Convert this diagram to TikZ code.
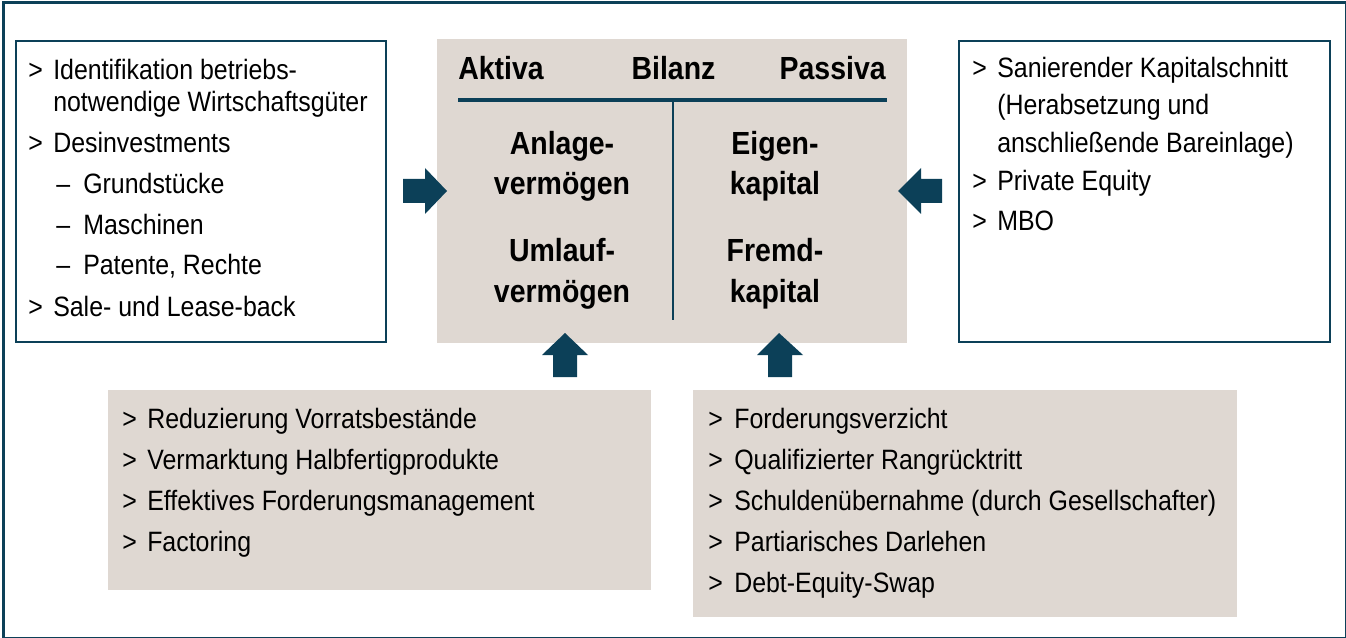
\documentclass[tikz,border=0pt]{standalone}
\usepackage{fontspec}
\setmainfont[FakeStretch=0.89]{Liberation Sans}
\definecolor{frameblue}{RGB}{12,64,88}
\definecolor{beige}{RGB}{223,216,210}
\begin{document}
\begin{tikzpicture}[x=0.75pt,y=-0.75pt,
  txt/.style={anchor=base west, inner sep=0pt, font=\fontsize{21}{25}\selectfont},
  hd/.style={anchor=base, inner sep=0pt, font=\fontsize{24}{28}\selectfont\bfseries},
  wbox/.style={draw=frameblue, line width=1.5pt, fill=white, anchor=north west, inner sep=0pt},
  bbox/.style={fill=beige, anchor=north west, inner sep=0pt},
  blockarrow/.style={fill=frameblue, draw=none}]
\useasboundingbox (0,0) rectangle (1346,638);
\fill[white] (0,0) rectangle (1346,638);
\node[draw=frameblue, line width=2.25pt, anchor=north west, inner sep=0pt,
      minimum width=1007.25pt, minimum height=476.25pt] (frame) at (1.5,1.5) {};

% boxes
\node[wbox, minimum width=277.5pt, minimum height=225.75pt] (L) at (15,40) {};
\node[bbox, minimum width=352.5pt, minimum height=228pt] (C) at (437,39) {};
\node[wbox, minimum width=278.25pt, minimum height=225.75pt] (R) at (958,40) {};
\node[bbox, minimum width=407.25pt, minimum height=150pt] (BL) at (108,390) {};
\node[bbox, minimum width=408pt, minimum height=170.25pt] (BR) at (693,390) {};

% balance sheet lines
\coordinate (hl) at (458,100.5);
\coordinate (hr) at (887,100.5);
\coordinate (vt) at (673,100.5);
\coordinate (vb) at (673,320);
\draw[frameblue, line width=3pt] (hl) -- (hr);
\draw[frameblue, line width=1.9pt] (vt) -- (vb);

% header
\node[hd, anchor=base west] (aktiva) at (458,80) {Aktiva};
\node[hd] (bilanz) at (673.5,80) {Bilanz};
\node[hd, anchor=base east] (passiva) at (886,80) {Passiva};
\node[hd] (a1) at (562,155) {Anlage-};
\node[hd] (a2) at (562,195) {vermögen};
\node[hd] (u1) at (562,262) {Umlauf-};
\node[hd] (u2) at (562,302) {vermögen};
\node[hd] (e1) at (775,155) {Eigen-};
\node[hd] (e2) at (775,195) {kapital};
\node[hd] (f1) at (775,262) {Fremd-};
\node[hd] (f2) at (775,302) {kapital};

% left box text
\node[txt] (lm1) at (28,80) {>};
\node[txt] (lt1) at (53,80) {Identifikation betriebs-};
\node[txt] (lt1b) at (53,112) {notwendige Wirtschaftsgüter};
\node[txt] (lm2) at (28,153) {>};
\node[txt] (lt2) at (53,153) {Desinvestments};
\node[txt] (ld1) at (56,194) {–};
\node[txt] (lt3) at (83,194) {Grundstücke};
\node[txt] (ld2) at (56,234) {–};
\node[txt] (lt4) at (83,234) {Maschinen};
\node[txt] (ld3) at (56,274) {–};
\node[txt] (lt5) at (83,274) {Patente, Rechte};
\node[txt] (lm3) at (28,316) {>};
\node[txt] (lt6) at (53,316) {Sale- und Lease-back};

% right box text
\node[txt] (rm1) at (972,78) {>};
\node[txt] (rt1) at (997,78) {Sanierender Kapitalschnitt};
\node[txt] (rt1b) at (997,115) {(Herabsetzung und};
\node[txt] (rt1c) at (997,153) {anschließende Bareinlage)};
\node[txt] (rm2) at (972,191) {>};
\node[txt] (rt2) at (997,191) {Private Equity};
\node[txt] (rm3) at (972,230) {>};
\node[txt] (rt3) at (997,230) {MBO};

% bottom left text
\node[txt] (bm1) at (122,428) {>};
\node[txt] (bt1) at (147,428) {Reduzierung Vorratsbestände};
\node[txt] (bm2) at (122,469) {>};
\node[txt] (bt2) at (147,469) {Vermarktung Halbfertigprodukte};
\node[txt] (bm3) at (122,510) {>};
\node[txt] (bt3) at (147,510) {Effektives Forderungsmanagement};
\node[txt] (bm4) at (122,551) {>};
\node[txt] (bt4) at (147,551) {Factoring};

% bottom right text
\node[txt] (cm1) at (708,428) {>};
\node[txt] (ct1) at (734,428) {Forderungsverzicht};
\node[txt] (cm2) at (708,469) {>};
\node[txt] (ct2) at (734,469) {Qualifizierter Rangrücktritt};
\node[txt] (cm3) at (708,510) {>};
\node[txt] (ct3) at (734,510) {Schuldenübernahme (durch Gesellschafter)};
\node[txt] (cm4) at (708,551) {>};
\node[txt] (ct4) at (734,551) {Partiarisches Darlehen};
\node[txt] (cm5) at (708,592) {>};
\node[txt] (ct5) at (734,592) {Debt-Equity-Swap};

% block arrows
\fill[blockarrow] (403,179) -- (425,179) -- (425,168) -- (447,191) -- (425,214) -- (425,203) -- (403,203) -- cycle;
\fill[blockarrow] (942,179) -- (921,179) -- (921,168) -- (898,191) -- (921,214) -- (921,203) -- (942,203) -- cycle;
\fill[blockarrow] (553,377) -- (553,355) -- (542,355) -- (565,333) -- (588,355) -- (577,355) -- (577,377) -- cycle;
\fill[blockarrow] (768,377) -- (768,355) -- (757,355) -- (779,333) -- (803,355) -- (792,355) -- (792,377) -- cycle;
\end{tikzpicture}
\end{document}
